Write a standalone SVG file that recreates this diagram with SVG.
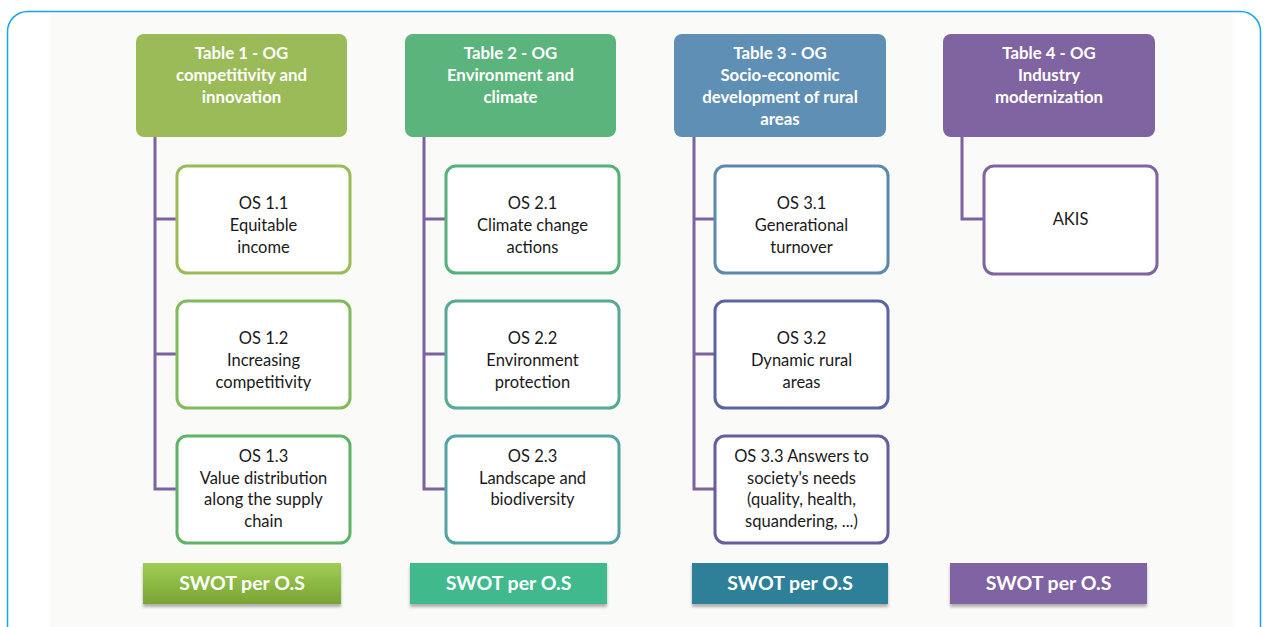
<svg xmlns="http://www.w3.org/2000/svg" width="1264" height="627" viewBox="0 0 1264 627">
<style>
.hdr{stroke:none}
.hdrt{font-family:Lato,"Open Sans",sans-serif;font-weight:bold;font-size:16.8px;fill:#fff;text-anchor:middle}
.os{fill:#fff;stroke-width:3}
.ost{font-family:Lato,"Open Sans",sans-serif;font-size:16.5px;fill:#1a1a1a;text-anchor:middle}
.swt{font-family:Lato,"Open Sans",sans-serif;font-weight:bold;font-size:19.5px;fill:#fff;text-anchor:middle}
.conn{fill:none;stroke:#7d62a0;stroke-width:3}
</style>
<defs>
<linearGradient id="g1" x1="0" y1="0" x2="0" y2="1"><stop offset="0" stop-color="#a0cd54"/><stop offset="1" stop-color="#78a534"/></linearGradient>
<filter id="sh" x="-10%" y="-20%" width="120%" height="160%"><feDropShadow dx="0" dy="3" stdDeviation="1.5" flood-color="#000" flood-opacity="0.3"/></filter>
</defs>
<rect x="0" y="0" width="1264" height="627" fill="#fff"/>
<rect x="50" y="12" width="1183" height="615" fill="#fafaf8"/>
<rect x="7.5" y="11.5" width="1253" height="650" rx="20" fill="none" stroke="#1aa3e8" stroke-width="1.5"/>
<g id="connectors">
<path class="conn" d="M155 137 V489 H177 M155 219 H177 M155 354 H177"/>
<path class="conn" d="M424 137 V489 H446 M424 219 H446 M424 354 H446"/>
<path class="conn" d="M694 137 V489 H715 M694 219 H715 M694 354 H715"/>
<path class="conn" d="M962 137 V219 H984"/>
</g>
<g id="table1">
<rect class="hdr" x="136" y="34" width="211" height="103" rx="8" fill="#9bbb59"/>
<text class="hdrt" x="241.5" y="59">Table 1 - OG</text>
<text class="hdrt" x="241.5" y="81">competitivity and</text>
<text class="hdrt" x="241.5" y="103">innovation</text>
</g>
<g id="table2">
<rect class="hdr" x="405" y="34" width="211" height="103" rx="8" fill="#5bb47b"/>
<text class="hdrt" x="510.5" y="59">Table 2 - OG</text>
<text class="hdrt" x="510.5" y="81">Environment and</text>
<text class="hdrt" x="510.5" y="103">climate</text>
</g>
<g id="table3">
<rect class="hdr" x="674" y="34" width="212" height="103" rx="8" fill="#5f8fb4"/>
<text class="hdrt" x="780" y="59">Table 3 - OG</text>
<text class="hdrt" x="780" y="81">Socio-economic</text>
<text class="hdrt" x="780" y="103">development of rural</text>
<text class="hdrt" x="780" y="125">areas</text>
</g>
<g id="table4">
<rect class="hdr" x="943" y="34" width="212" height="103" rx="8" fill="#8064a2"/>
<text class="hdrt" x="1049" y="59">Table 4 - OG</text>
<text class="hdrt" x="1049" y="81">Industry</text>
<text class="hdrt" x="1049" y="103">modernization</text>
</g>
<g id="os11">
<rect class="os" x="177" y="166" width="173" height="107" rx="10" stroke="#9bbb59"/>
<text class="ost" x="263.5" y="209">OS 1.1</text>
<text class="ost" x="263.5" y="231">Equitable</text>
<text class="ost" x="263.5" y="253">income</text>
</g>
<g id="os12">
<rect class="os" x="177" y="301" width="173" height="107" rx="10" stroke="#7fbb5c"/>
<text class="ost" x="263.5" y="344">OS 1.2</text>
<text class="ost" x="263.5" y="366">Increasing</text>
<text class="ost" x="263.5" y="388">competitivity</text>
</g>
<g id="os13">
<rect class="os" x="177" y="436" width="173" height="107" rx="10" stroke="#5db466"/>
<text class="ost" x="263.5" y="462">OS 1.3</text>
<text class="ost" x="263.5" y="484">Value distribution</text>
<text class="ost" x="263.5" y="505">along the supply</text>
<text class="ost" x="263.5" y="527">chain</text>
</g>
<g id="os21">
<rect class="os" x="446" y="166" width="173" height="107" rx="10" stroke="#55b07a"/>
<text class="ost" x="532.5" y="209">OS 2.1</text>
<text class="ost" x="532.5" y="231">Climate change</text>
<text class="ost" x="532.5" y="253">actions</text>
</g>
<g id="os22">
<rect class="os" x="446" y="301" width="173" height="107" rx="10" stroke="#55a995"/>
<text class="ost" x="532.5" y="344">OS 2.2</text>
<text class="ost" x="532.5" y="366">Environment</text>
<text class="ost" x="532.5" y="388">protection</text>
</g>
<g id="os23">
<rect class="os" x="446" y="436" width="173" height="107" rx="10" stroke="#52a3a5"/>
<text class="ost" x="532.5" y="462">OS 2.3</text>
<text class="ost" x="532.5" y="484">Landscape and</text>
<text class="ost" x="532.5" y="505">biodiversity</text>
</g>
<g id="os31">
<rect class="os" x="715" y="166" width="173" height="107" rx="10" stroke="#5b89ad"/>
<text class="ost" x="801.5" y="209">OS 3.1</text>
<text class="ost" x="801.5" y="231">Generational</text>
<text class="ost" x="801.5" y="253">turnover</text>
</g>
<g id="os32">
<rect class="os" x="715" y="301" width="173" height="107" rx="10" stroke="#5a64a0"/>
<text class="ost" x="801.5" y="344">OS 3.2</text>
<text class="ost" x="801.5" y="366">Dynamic rural</text>
<text class="ost" x="801.5" y="388">areas</text>
</g>
<g id="os33">
<rect class="os" x="715" y="436" width="173" height="107" rx="10" stroke="#6a5a9e"/>
<text class="ost" x="801.5" y="462">OS 3.3 Answers to</text>
<text class="ost" x="801.5" y="484">society's needs</text>
<text class="ost" x="801.5" y="505">(quality, health,</text>
<text class="ost" x="801.5" y="527">squandering, ...)</text>
</g>
<g id="akis">
<rect class="os" x="984" y="166" width="173" height="108" rx="10" stroke="#8064a2"/>
<text class="ost" x="1070.5" y="225">AKIS</text>
</g>
<g id="swot1">
<rect x="143" y="563" width="198" height="41" fill="url(#g1)" filter="url(#sh)"/>
<text class="swt" x="242" y="590">SWOT per O.S</text>
</g>
<g id="swot2">
<rect x="410" y="563" width="197" height="41" fill="#40b98d" filter="url(#sh)"/>
<text class="swt" x="508.5" y="590">SWOT per O.S</text>
</g>
<g id="swot3">
<rect x="692" y="563" width="196" height="41" fill="#2e8098" filter="url(#sh)"/>
<text class="swt" x="790" y="590">SWOT per O.S</text>
</g>
<g id="swot4">
<rect x="950" y="563" width="197" height="41" fill="#8064a2" filter="url(#sh)"/>
<text class="swt" x="1048.5" y="590">SWOT per O.S</text>
</g>
</svg>
